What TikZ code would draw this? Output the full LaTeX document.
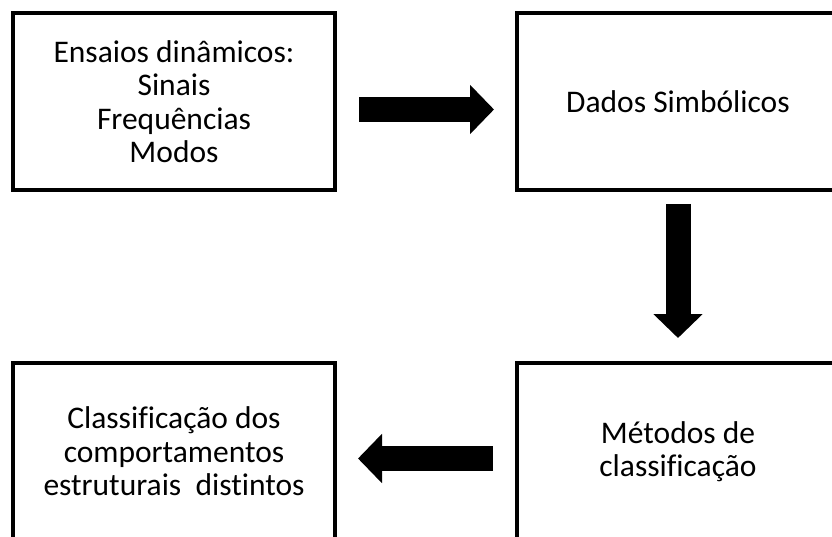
\documentclass[tikz,border=0pt]{standalone}
\usepackage{fontspec}
\setmainfont{Carlito}[Ligatures=NoCommon]
\usetikzlibrary{positioning,arrows.meta}

\begin{document}
\begin{tikzpicture}[x=1pt,y=-1pt,
    main/.style = {draw, line width=4pt, outer sep=0pt, minimum width=322pt, minimum height=177pt, align=center, font=\fontsize{31.5}{33.5}\selectfont},
    blockarrow/.style = {line width=25pt, -{Triangle[length=24pt,width=48pt]}}]
  \useasboundingbox (0,0) rectangle (832,537);
  \clip (0,0) rectangle (832,537);
  \node[main] (1) at (174,101.5) {Ensaios dinâmicos:\\Sinais\\Frequências\\Modos};
  \node[main] (2) [right=182pt of 1] {Dados Simbólicos};
  \node[main] (4) [below=173pt of 2] {Métodos de\\classificação};
  \node[main] (3) [left=182pt of 4] {Classificação dos\\comportamentos\\estruturais~ distintos};
  \draw[blockarrow, shorten <=24pt, shorten >=23pt] ([yshift=-8pt]1.east) -- ([yshift=-8pt]2.west);
  \draw[blockarrow, shorten <=14pt, shorten >=25pt] (2.south) -- (4.north);
  \draw[blockarrow, shorten <=24pt, shorten >=23pt] ([yshift=-7pt]4.west) -- ([yshift=-7pt]3.east);
\end{tikzpicture}
\end{document}
